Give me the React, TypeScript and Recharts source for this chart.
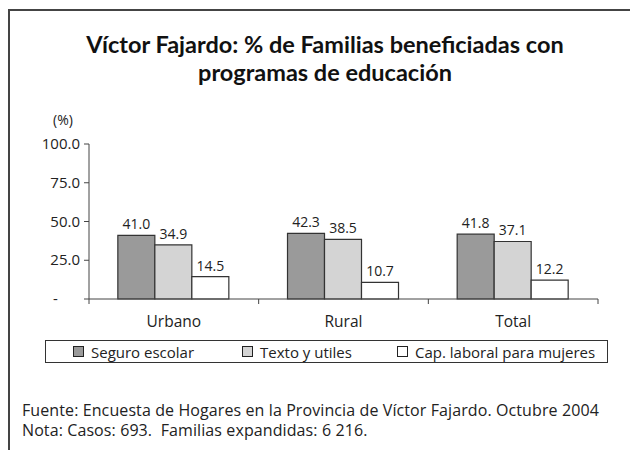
import { BarChart, Bar, XAxis, YAxis, LabelList, Legend } from 'recharts';

const categories = ['Urbano', 'Rural', 'Total'];
const seguroEscolar = [41.0, 42.3, 41.8];
const textoUtiles = [34.9, 38.5, 37.1];
const capLaboral = [14.5, 10.7, 12.2];
const yTicks = [0, 25, 50, 75, 100];

const series = [
  { key: 'seguro', name: 'Seguro escolar', color: '#9a9a9a', values: seguroEscolar },
  { key: 'texto', name: 'Texto y utiles', color: '#d4d4d4', values: textoUtiles },
  { key: 'cap', name: 'Cap. laboral para mujeres', color: '#ffffff', values: capLaboral },
];

const data = categories.map((c, i) => {
  const row: Record<string, string | number> = { category: c };
  series.forEach((s) => {
    row[s.key] = s.values[i];
  });
  return row;
});

const FONT = '"Open Sans", "Noto Sans", sans-serif';
const TITLE_FONT = 'Lato, "Noto Sans", sans-serif';

const YTick = (props: any) => {
  const { x, y, payload } = props;
  const v = payload.value;
  if (v === 0) {
    return (
      <text x={x - 29} y={y} dy={5} textAnchor="start" fontSize={15} fill="#222" fontFamily={FONT}>
        -
      </text>
    );
  }
  return (
    <text x={x - 2} y={y} dy={5} textAnchor="end" fontSize={15} fill="#222" fontFamily={FONT}>
      {v.toFixed(1)}
    </text>
  );
};

const XTick = (props: any) => {
  const { x, y, payload, index, width } = props;
  const band = width / categories.length;
  const left = x - band / 2;
  const right = x + band / 2;
  return (
    <g>
      <line x1={left} x2={left} y1={y - 8} y2={y - 3} stroke="#444" strokeWidth={1} />
      {index === categories.length - 1 && (
        <line x1={right} x2={right} y1={y - 8} y2={y - 3} stroke="#444" strokeWidth={1} />
      )}
      <text x={x} y={y} dy={20} textAnchor="middle" fontSize={15.5} fill="#222" fontFamily={FONT}>
        {payload.value}
      </text>
    </g>
  );
};

const LegendBox = () => (
  <div
    style={{
      width: 563,
      height: 23,
      border: '1px solid #333',
      boxSizing: 'border-box',
      position: 'relative',
      fontFamily: FONT,
      fontSize: 15,
      color: '#222',
    }}
  >
    {series.map((s, i) => (
      <div
        key={s.key}
        style={{
          position: 'absolute',
          left: [27, 196, 351][i],
          top: 0,
          display: 'flex',
          alignItems: 'center',
          height: 21,
          whiteSpace: 'nowrap',
        }}
      >
        <span
          style={{
            display: 'inline-block',
            width: 9,
            height: 9,
            background: s.color,
            border: '1px solid #222',
            marginRight: 7,
          }}
        />
        {s.name}
      </div>
    ))}
  </div>
);

export default function App() {
  return (
    <div
      style={{
        position: 'absolute',
        left: 0,
        top: 0,
        width: 630,
        height: 450,
        background: '#fff',
        overflow: 'hidden',
        fontFamily: FONT,
      }}
    >
      <div
        style={{
          position: 'absolute',
          left: 8,
          top: 9,
          width: 640,
          height: 460,
          borderLeft: '2px solid #444',
          borderTop: '2px solid #444',
        }}
      />
      <div
        style={{
          position: 'absolute',
          left: 10,
          top: 30,
          width: 630,
          textAlign: 'center',
          fontFamily: TITLE_FONT,
          fontWeight: 700,
          fontSize: 23.5,
          lineHeight: '28px',
          color: '#111',
        }}
      >
        Víctor Fajardo: % de Familias beneficiadas con
        <br />
        programas de educación
      </div>
      <div
        style={{ position: 'absolute', left: 53, top: 111, fontSize: 14, lineHeight: '17px', color: '#222' }}
      >
        (%)
      </div>
      <div style={{ position: 'absolute', left: 0, top: 0 }}>
        <BarChart
          width={630}
          height={450}
          data={data}
          margin={{ top: 144, right: 32, left: 29, bottom: 121 }}
          barCategoryGap="17%"
          barGap={0}
        >
          <YAxis
            domain={[0, 100]}
            ticks={yTicks}
            width={60}
            axisLine={{ stroke: '#444' }}
            tickLine={{ stroke: '#444' }}
            tickSize={5}
            tick={<YTick />}
            interval={0}
          />
          <XAxis
            dataKey="category"
            height={30}
            axisLine={{ stroke: '#444' }}
            tickLine={false}
            tick={<XTick />}
            interval={0}
          />
          {series.map((s) => (
            <Bar
              key={s.key}
              dataKey={s.key}
              name={s.name}
              fill={s.color}
              stroke="#333"
              strokeWidth={1.2}
              isAnimationActive={false}
            >
              <LabelList
                dataKey={s.key}
                position="top"
                offset={6}
                fontSize={14}
                fill="#222"
                fontFamily={FONT}
                formatter={(v: any) => Number(v).toFixed(1)}
              />
            </Bar>
          ))}
          <Legend
            layout="horizontal"
            verticalAlign="middle"
            align="center"
            content={<LegendBox />}
            wrapperStyle={{ position: 'absolute', left: 45, top: 340, width: 563, height: 23 }}
          />
        </BarChart>
      </div>
      <div
        style={{
          position: 'absolute',
          left: 22,
          top: 400,
          fontSize: 16,
          lineHeight: '20px',
          color: '#222',
          whiteSpace: 'nowrap',
          letterSpacing: 0.1,
        }}
      >
        <div>Fuente: Encuesta de Hogares en la Provincia de Víctor Fajardo. Octubre 2004</div>
        <div>Nota: Casos: 693.&nbsp; Familias expandidas: 6 216.</div>
      </div>
    </div>
  );
}
